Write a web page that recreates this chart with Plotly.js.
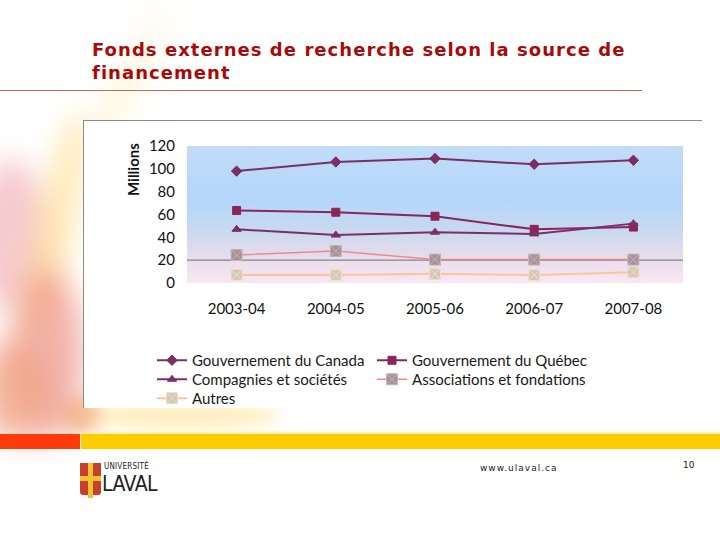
<!DOCTYPE html>
<html><head><meta charset="utf-8">
<script src="https://cdn.plot.ly/plotly-3.0.1.min.js"></script>
<style>
html,body{margin:0;padding:0;background:#fff;}
#slide{position:relative;width:720px;height:540px;overflow:hidden;background:#fff;}
.abs{position:absolute;}
.blob{position:absolute;border-radius:50%;filter:blur(14px);}
</style></head><body>
<div id="slide">
  <!-- left decorative flame -->
  <div class="blob" style="left:-30px;top:160px;width:80px;height:150px;background:rgba(235,140,150,0.45);"></div>
  <div class="blob" style="left:35px;top:110px;width:40px;height:240px;background:rgba(255,215,120,0.5);transform:rotate(12deg);"></div>
  <div class="blob" style="left:10px;top:270px;width:75px;height:170px;background:rgba(235,130,120,0.6);"></div>
  <div class="blob" style="left:-20px;top:340px;width:70px;height:100px;background:rgba(240,160,130,0.75);"></div>
  <div class="blob" style="left:110px;top:0px;width:22px;height:190px;background:rgba(255,232,175,0.45);transform:rotate(28deg);"></div>
  <div class="blob" style="left:80px;top:402px;width:200px;height:28px;background:rgba(255,225,140,0.55);filter:blur(8px);"></div>
  <div class="blob" style="left:60px;top:395px;width:40px;height:40px;background:rgba(240,160,110,0.6);filter:blur(8px);"></div>
  <!-- title -->
  <div class="abs" style="left:92px;top:38px;font-family:'DejaVu Sans',Verdana,sans-serif;font-weight:bold;font-size:18px;line-height:23px;letter-spacing:1.05px;color:#a80a0a;white-space:nowrap;">Fonds externes de recherche selon la source de<br>financement</div>
  <!-- title rule -->
  <div class="abs" style="left:0;top:90px;width:642px;height:1px;background:#c46a55;"></div>
  <!-- chart box -->
  <div class="abs" style="left:83px;top:120px;width:618px;height:287px;background:#fff;border-top:1px solid #8a8a8a;border-left:1px solid #8a8a8a;"></div>
  <!-- plot area gradient -->
  <div class="abs" style="left:187px;top:146px;width:496px;height:137px;background:linear-gradient(to bottom,#c1dcf8 0%,#b4d6fa 40%,#c9d9ef 62%,#e6dcec 80%,#fbe6f3 100%);"></div>
  <!-- footer bars -->
  <div class="abs" style="left:0;top:434px;width:80px;height:15px;background:#ff3a0a;"></div>
  <div class="abs" style="left:81px;top:434px;width:639px;height:15px;background:#ffcc00;"></div>
  <div class="abs" style="left:81px;top:430px;width:639px;height:4px;background:linear-gradient(to bottom,rgba(255,240,170,0),rgba(255,235,150,0.8));"></div>
  <!-- logo -->
  <div class="abs" style="left:80px;top:463px;width:21px;height:32px;background:#c8402c;border-radius:0 0 3px 3px;"></div>
  <div class="abs" style="left:88px;top:463px;width:5px;height:35px;background:#f2c230;"></div>
  <div class="abs" style="left:80px;top:476px;width:21px;height:5px;background:#f2c230;"></div>
  <div class="abs" style="left:104px;top:462px;height:9px;line-height:9px;font-family:'DejaVu Sans Condensed','DejaVu Sans';font-size:8px;color:#222;letter-spacing:0.2px;">UNIVERSITÉ</div>
  <div class="abs" style="left:102px;top:474px;height:20px;line-height:20px;font-family:'DejaVu Sans Condensed','DejaVu Sans';font-size:21px;color:#222;letter-spacing:-0.5px;">LAVAL</div>
  <div id="chart" class="abs" style="left:0;top:0;width:720px;height:540px;"></div>
  <div class="abs" style="left:480px;top:463px;font-family:'DejaVu Sans';font-size:9px;color:#222;letter-spacing:1px;">www.ulaval.ca</div>
  <div class="abs" style="left:683px;top:460px;font-family:'DejaVu Sans';font-size:9px;color:#222;">10</div>
</div>
<script>
const categories = ['2003-04','2004-05','2005-06','2006-07','2007-08'];
const canada = [98, 106, 109, 104, 107.5];
const quebec = [63.5, 62, 58.5, 47, 49];
const compagnies = [47, 42, 44.5, 43, 52];
const associations = [24.5, 28, 20.5, 20.5, 20.5];
const autres = [7, 7, 8, 7, 9.5];
const seriesNames = ['Gouvernement du Canada','Gouvernement du Québec','Compagnies et sociétés','Associations et fondations','Autres'];
const yTicks = [0, 20, 40, 60, 80, 100, 120];

function tr(name, y, lineColor, markerColor, symbol, size, lw, mlc, leg){
  return {type:'scatter', mode:'lines+markers', name:name, x:categories, y:y, cliponaxis:false, legend:leg,
    line:{color:lineColor, width:lw},
    marker:{color:markerColor, symbol:symbol, size:size, line:{color:mlc||markerColor, width:1}}};
}
const data = [
  tr(seriesNames[0], canada, '#7a2e62', '#7a2e62', 'diamond', 8, 2, null, 'legend'),
  tr(seriesNames[1], quebec, '#8a2558', '#8a2558', 'square', 8, 2, null, 'legend'),
  tr(seriesNames[2], compagnies, '#7a2f6c', '#7a2f6c', 'triangle-up', 8, 2, null, 'legend2'),
  tr(seriesNames[3], associations, '#f08a8a', '#a8929a', 'square-x', 11, 1.5, '#c4b2b6', 'legend2'),
  tr(seriesNames[4], autres, '#f9c69c', '#d6c8b4', 'square-x', 11, 2, '#ebe0cf', 'legend3')
];
function leg(top){
  return {orientation:'h', x:(152-187)/496, xanchor:'left', y:(283-top)/137, yanchor:'top',
    entrywidth:175, entrywidthmode:'pixels', font:{size:15, color:'#1a1a1a'}, bgcolor:'rgba(0,0,0,0)'};
}
const layout = {
  width:720, height:540,
  margin:{l:187, r:37, t:146, b:257, pad:0},
  paper_bgcolor:'rgba(0,0,0,0)', plot_bgcolor:'rgba(0,0,0,0)',
  font:{family:'Lato, "Open Sans", sans-serif', color:'#111'},
  xaxis:{type:'category', range:[-0.5,4.5], showgrid:false, zeroline:false, showline:false, ticks:'',
    tickfont:{size:15, color:'#111'}, ticklabelstandoff:15, fixedrange:true},
  yaxis:{range:[0,120], tickvals:yTicks, showgrid:false, zeroline:false, showline:false, ticks:'',
    tickfont:{size:15, color:'#111'}, ticklabelstandoff:11, fixedrange:true},
  shapes:[{type:'line', xref:'paper', yref:'y', x0:0, x1:1, y0:20, y1:20, layer:'below', line:{color:'#858585', width:1.2}}],
  annotations:[{text:'<b>Millions</b>', xref:'paper', yref:'paper', x:(133-187)/496, y:(283-170)/137,
    xanchor:'center', yanchor:'middle', textangle:-90, showarrow:false, font:{size:15, color:'#111'}}],
  showlegend:true,
  legend:leg(344), legend2:leg(363), legend3:leg(382)
};
Plotly.newPlot('chart', data, layout, {displayModeBar:false, staticPlot:true});
</script>
</body></html>
